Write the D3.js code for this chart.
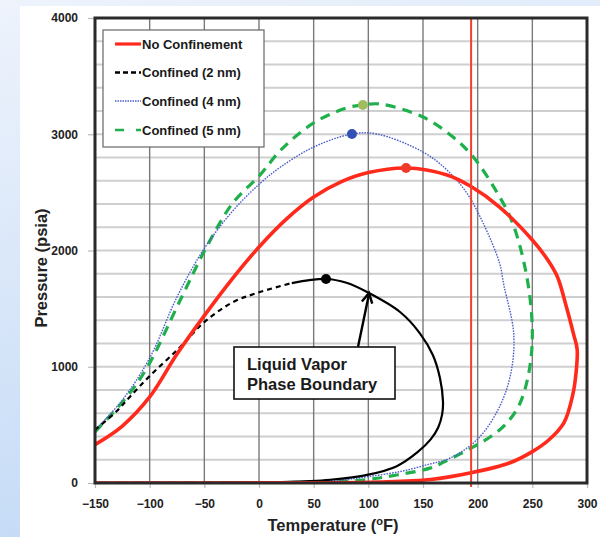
<!DOCTYPE html>
<html><head><meta charset="utf-8">
<script src="https://cdn.jsdelivr.net/npm/d3@7"></script>
<style>body{margin:0;}svg{display:block;font-family:"Liberation Sans",Arial,sans-serif;}</style>
</head><body><svg id="c" width="600" height="537"></svg>
<script>
// ---- data ----
const xTicks = [-150,-100,-50,0,50,100,150,200,250,300];
const yTicks = [0,1000,2000,3000,4000];
const seriesNames = ["No Confinement","Confined (2 nm)","Confined (4 nm)","Confined (5 nm)"];
// phase envelopes [T (°F), P (psia)] : bubble side -> critical point -> dew side
const noConfinement = [[-150,330],[-125,490],[-100,740],[-75,1110],[-50,1440],[-25,1750],[0,2030],[25,2270],[50,2460],[75,2590],[100,2670],[134.5,2710],
  [172,2650],[194,2550],[220,2374],[250,2090],[264,1920],[273,1772],[281,1520],[288,1270],[291,1150],[290,950],[287,760],[279,520],[265,370],[250,270],[229,172],[194,88],[157,30],[110,8],[50,2],[-150,0]];
const confined2 = [[-150,456],[-130,620],[-118,742],[-100,920],[-72,1170],[-51,1376],[-25,1550],[-2,1634],[30,1720],[61.3,1755],
  [80,1722],[100.6,1634],[129,1471],[147,1290],[159,1101],[165.5,903],[168.3,700],[167.5,590],[164,480],[157,375],[145,265],[126,145],[100,72],[65,28],[20,8],[-50,2],[-150,0]];
const confined2DashedCount = 9; // points drawn dashed (bubble side)
const confined4 = [[-150,456],[-125,714],[-100,1075],[-75,1600],[-51,2004],[-25,2330],[1,2577],[20,2720],[50,2890],[85,3002],
  [108,3002],[150,2847],[172,2692],[190,2495],[205,2236],[220,1892],[224,1700],[233,1282],[230,929],[219,637],[200,378],[175,215],[155,160],[130,100],[100,55],[80,30],[50,12],[0,3],[-150,0]];
const confined5 = [[-150,440],[-121,740],[-102,998],[-72,1574],[-48,2030],[-24,2408],[1,2650],[20,2865],[50,3097],[80,3226],[95,3252],
  [111,3260],[150,3148],[177.5,2976],[196,2804],[218,2495],[232,2236],[245,1772],[250,1307],[247,959],[238,671],[225,500],[212,400],[194,300],[170,185],[157,130],[126,69],[95,26],[50,8],[0,2],[-150,0]];
const criticalPoints = [[134.5,2710],[61.3,1755],[85,3002],[95,3252]];
const reservoirTemp = 194;
const annotationLines = ["Liquid Vapor","Phase Boundary"];
const arrowTip = [100.6,1634];

// ---- chart ----
const svg = d3.select("#c");
const defs = svg.append("defs");
const g1 = defs.append("linearGradient").attr("id","bg").attr("x1",0).attr("y1",0).attr("x2",0.3).attr("y2",1);
g1.append("stop").attr("offset","0%").attr("stop-color","#eef3fc");
g1.append("stop").attr("offset","100%").attr("stop-color","#c3daf6");
svg.append("rect").attr("width",600).attr("height",537).attr("fill","url(#bg)");
svg.append("rect").attr("x",20).attr("y",6).attr("width",580).attr("height",531).attr("fill","#fff");

const L=95,R=587,T=18,B=483;
const x = d3.scaleLinear().domain([-150,300]).range([L,R]);
const y = d3.scaleLinear().domain([0,4000]).range([B,T]);

defs.append("clipPath").attr("id","clip").append("rect").attr("x",L).attr("y",T).attr("width",R-L).attr("height",B-T+1);

// horizontal grid every 200
const hg = d3.range(200,4000,200);
svg.append("g").selectAll("line").data(hg).join("line")
  .attr("x1",L).attr("x2",R).attr("y1",d=>y(d)).attr("y2",d=>y(d))
  .attr("stroke","#cfcfcf").attr("stroke-width",2);
// vertical grid
svg.append("g").selectAll("line").data(xTicks.slice(1,-1)).join("line")
  .attr("x1",d=>x(d)).attr("x2",d=>x(d)).attr("y1",T).attr("y2",B)
  .attr("stroke","#7a7a7a").attr("stroke-width",1.4);

// axes
const xa = svg.append("g").attr("transform",`translate(0,${B})`)
  .call(d3.axisBottom(x).tickValues(xTicks).tickFormat(d3.format("d")).tickSize(5).tickPadding(11));
const ya = svg.append("g").attr("transform",`translate(${L},0)`)
  .call(d3.axisLeft(y).tickValues(yTicks).tickFormat(d3.format("d")).tickSize(7).tickPadding(10));
[xa,ya].forEach(a=>{
  a.select(".domain").remove();
  a.selectAll(".tick line").attr("stroke","#bbb").attr("stroke-width",1.2);
  a.selectAll(".tick text").attr("font-size",12).attr("font-weight","bold").attr("fill","#222")
    .attr("font-family","'Liberation Sans',Arial,sans-serif");
});

// axis titles
const xt = svg.append("text").attr("x",(L+R)/2-8).attr("y",531).attr("text-anchor","middle")
  .attr("font-size",16.5).attr("font-weight","bold").attr("fill","#222");
xt.append("tspan").text("Temperature (");
xt.append("tspan").attr("font-size",11).attr("dy",-6).text("o");
xt.append("tspan").attr("dy",6).text("F)");
svg.append("text").attr("transform","translate(47,268) rotate(-90)").attr("text-anchor","middle")
  .attr("font-size",16.5).attr("font-weight","bold").attr("fill","#222").text("Pressure (psia)");

// curves
const line = d3.line().x(d=>x(d[0])).y(d=>y(d[1])).curve(d3.curveCatmullRom.alpha(0.5));
const cg = svg.append("g").attr("clip-path","url(#clip)");
const styles = [
  {color:"#ff2a1c", w:3.6, dash:null},
  {color:"#000", w:2.2, dash:"5,4"},
  {color:"#4d5fcc", w:1.4, dash:"1.6,1.2"},
  {color:"#1fb04c", w:3.2, dash:"10,7"}
];
cg.append("path").attr("d",line(confined5)).attr("fill","none").attr("stroke",styles[3].color).attr("stroke-width",styles[3].w).attr("stroke-dasharray",styles[3].dash);
cg.append("path").attr("d",line(confined4)).attr("fill","none").attr("stroke",styles[2].color).attr("stroke-width",styles[2].w).attr("stroke-dasharray",styles[2].dash);
cg.append("path").attr("d",line(confined2.slice(0,confined2DashedCount))).attr("fill","none").attr("stroke","#000").attr("stroke-width",2.2).attr("stroke-dasharray","5,4");
cg.append("path").attr("d",line(confined2.slice(confined2DashedCount-1))).attr("fill","none").attr("stroke","#000").attr("stroke-width",2.2);
cg.append("path").attr("d",line(noConfinement)).attr("fill","none").attr("stroke",styles[0].color).attr("stroke-width",styles[0].w);

// reservoir temperature line
svg.append("line").attr("x1",x(reservoirTemp)).attr("x2",x(reservoirTemp)).attr("y1",T).attr("y2",B+4)
  .attr("stroke","#f2402c").attr("stroke-width",2);

// critical points
const dotColors = ["#f03a2a","#000","#3350b5","#9dbd5e"];
svg.append("g").selectAll("circle").data(criticalPoints).join("circle")
  .attr("cx",d=>x(d[0])).attr("cy",d=>y(d[1])).attr("r",5).attr("fill",(d,i)=>dotColors[i]);

// frame
svg.append("rect").attr("x",L).attr("y",T).attr("width",R-L).attr("height",B-T)
  .attr("fill","none").attr("stroke","#2a2a2a").attr("stroke-width",3);

// legend
const lg = svg.append("g");
lg.append("rect").attr("x",103).attr("y",30).attr("width",161).attr("height",117)
  .attr("fill","#fff").attr("stroke","#666").attr("stroke-width",1.2);
const legY = [44,72.5,101,130];
seriesNames.forEach((n,i)=>{
  const s = styles[i];
  const ln = lg.append("line").attr("x1",115).attr("x2",141).attr("y1",legY[i]).attr("y2",legY[i])
    .attr("stroke",s.color).attr("stroke-width",i===2?1.4:(i===0?3.2:2.6));
  if(i===1) ln.attr("stroke-dasharray","5,3");
  if(i===2) ln.attr("stroke-dasharray","1.5,1");
  if(i===3) ln.attr("stroke-dasharray","9,12");
  lg.append("text").attr("x",142).attr("y",legY[i]+4.5).attr("font-size",13).attr("font-weight","bold")
    .attr("fill","#1a1a1a").text(n);
});

// annotation
const ag = svg.append("g");
const tip = [x(arrowTip[0]), y(arrowTip[1])];
const base = [358,347];
ag.append("line").attr("x1",base[0]).attr("y1",base[1]).attr("x2",tip[0]).attr("y2",tip[1]+1)
  .attr("stroke","#000").attr("stroke-width",2.4);
const ang = Math.atan2(tip[1]-base[1], tip[0]-base[0]);
const ah = 11, aw = 0.5;
ag.append("path")
  .attr("d",`M${tip[0]+ah*Math.cos(ang+Math.PI-aw)},${tip[1]+ah*Math.sin(ang+Math.PI-aw)}L${tip[0]},${tip[1]}L${tip[0]+ah*Math.cos(ang+Math.PI+aw)},${tip[1]+ah*Math.sin(ang+Math.PI+aw)}`)
  .attr("fill","none").attr("stroke","#000").attr("stroke-width",2.4);
ag.append("rect").attr("x",234).attr("y",347).attr("width",161).attr("height",52)
  .attr("fill","#fff").attr("stroke","#111").attr("stroke-width",1.6);
annotationLines.forEach((t,i)=>{
  ag.append("text").attr("x",247).attr("y",370+i*20).attr("font-size",16.5).attr("font-weight","bold")
    .attr("fill","#1a1a1a").text(t);
});
</script></body></html>
